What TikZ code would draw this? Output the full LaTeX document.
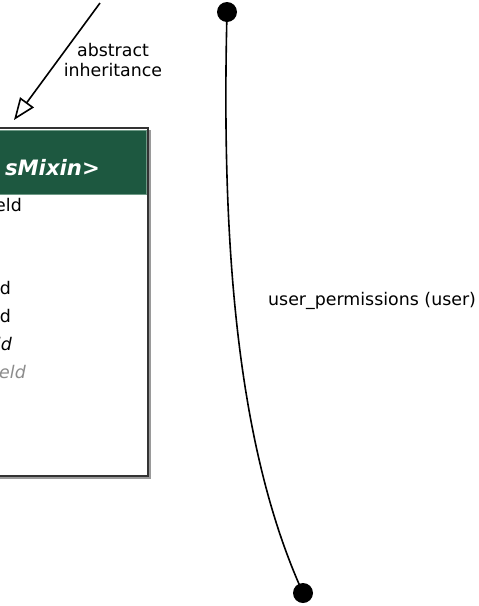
\documentclass[tikz,border=0pt]{standalone}
\usepackage{fontspec}
\setmainfont{DejaVu Sans}
\usetikzlibrary{arrows.meta}
\definecolor{hdrgreen}{HTML}{1D5840}
\definecolor{hdrline}{HTML}{6E9A86}
\definecolor{boxline}{HTML}{333333}
\definecolor{shadowgray}{HTML}{9A9A9A}
\definecolor{inhgray}{HTML}{8C8C8C}
\tikzset{
  lbl/.style={inner sep=0pt, font=\fontsize{17.4}{20.4}\selectfont},
  fieldtxt/.style={lbl, anchor=base east},
  dotend/.style={circle, fill=black, inner sep=0pt, minimum size=20pt},
  relline/.style={line width=1.6pt, black},
  inhline/.style={line width=1.6pt, black, -{Triangle[open, length=22pt, width=17pt, line width=1.6pt]}},
}
\begin{document}
\begin{tikzpicture}[x=1pt, y=-1pt]
\useasboundingbox (0,0) rectangle (479,606);
\clip (0,0) rectangle (479,606);
% class box (extends past the left edge)
\fill[shadowgray] (-200,130) rectangle (151,479);
\node[draw=boxline, fill=white, line width=1.8pt, minimum width=348pt, minimum height=348pt, inner sep=0pt] (cls) at (-26,302) {};
\node[fill=hdrgreen, draw=hdrline, line width=0.8pt, minimum width=344pt, minimum height=64pt, inner sep=0pt] (hdr) at (-26,162) {};
\node[lbl, anchor=base east, text=white, font=\fontsize{21.2}{24}\selectfont\bfseries\itshape] (title) at (100,175) {sMixin>};
\node[fieldtxt] (f1) at (22,211) {eld};
\node[fieldtxt] (f4) at (11,294) {d};
\node[fieldtxt] (f5) at (11,322) {d};
\node[fieldtxt, font=\fontsize{17.4}{20.4}\selectfont\itshape] (f6) at (12,350) {ld};
\node[fieldtxt, text=inhgray, font=\fontsize{17.4}{20.4}\selectfont\itshape] (f7) at (26,378) {eld};
% abstract inheritance arrow
\coordinate (inhsrc) at (100,3);
\coordinate (inhtip) at (14,120);
\draw[inhline] (inhsrc) -- (inhtip);
\node[lbl, align=center] (inhlbl) at (113,60) {abstract\\inheritance};
% relation user_permissions
\node[dotend] (d1) at (227,12) {};
\node[dotend] (d2) at (303,593) {};
\draw[relline] (d1.center) .. controls (221,250) and (238,450) .. (d2.center);
\node[lbl, anchor=base west] (rellbl) at (268,305) {user\_permissions (user)};
\end{tikzpicture}
\end{document}
